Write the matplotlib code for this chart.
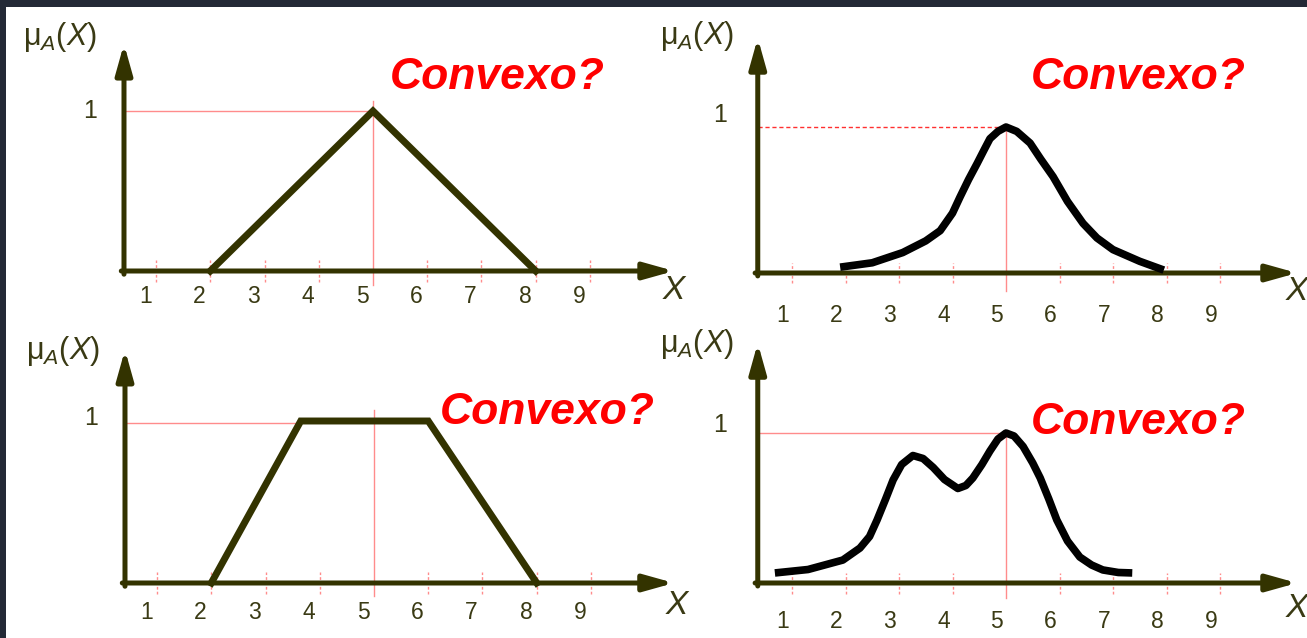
import matplotlib
matplotlib.use("Agg")
import matplotlib.pyplot as plt
from matplotlib.patches import Rectangle

plt.rcParams['font.family'] = ['Liberation Sans', 'DejaVu Sans']
plt.rcParams['mathtext.fontset'] = 'custom'
plt.rcParams['mathtext.rm'] = 'Liberation Sans'
plt.rcParams['mathtext.it'] = 'Liberation Sans:italic'

W, H = 1307, 638
AXIS = '#333300'
TEXT = '#3a3a14'
GUIDE = '#ff8c8c'

ticks = [1, 2, 3, 4, 5, 6, 7, 8, 9]
tick_labels = ['1', '2', '3', '4', '5', '6', '7', '8', '9']

# triangle and trapezoid membership functions
tri_x = [2, 5, 8]
tri_y = [0, 1, 0]
trap_x = [2, 3.65, 6, 8]
trap_y = [0, 1, 1, 0]

# bell shaped membership
bell_x = [1.9, 2.5, 3.07, 3.5, 3.77, 4.0, 4.14, 4.3, 4.46, 4.6, 4.7, 4.85, 5.0,
          5.2, 5.45, 5.65, 5.88, 6.15, 6.44, 6.7, 7.0, 7.5, 7.95]
bell_y = [0.04, 0.07, 0.14, 0.22, 0.29, 0.41, 0.52, 0.64, 0.75, 0.85, 0.92, 0.97, 1.0,
          0.97, 0.89, 0.78, 0.66, 0.49, 0.34, 0.24, 0.16, 0.08, 0.02]

# two-peaked membership
bimodal_x = [0.68, 1.3, 1.95, 2.27, 2.45, 2.59, 2.75, 2.89, 3.05, 3.26, 3.45, 3.64,
             3.85, 4.1, 4.25, 4.38, 4.55, 4.7, 4.85, 5.0, 5.15, 5.32, 5.5, 5.64,
             5.8, 5.95, 6.15, 6.38, 6.6, 6.81, 7.1, 7.36]
bimodal_y = [0.067, 0.09, 0.153, 0.233, 0.31, 0.42, 0.56, 0.687, 0.79, 0.85, 0.83, 0.77,
             0.69, 0.63, 0.65, 0.70, 0.79, 0.88, 0.96, 1.0, 0.98, 0.91, 0.80, 0.70,
             0.56, 0.42, 0.28, 0.173, 0.12, 0.087, 0.07, 0.067]

fig = plt.figure(figsize=(W / 100, H / 100), dpi=100, facecolor='#232936')
fig.patches.append(Rectangle((6 / W, 0), 1, 1 - 7 / H, transform=fig.transFigure,
                             facecolor='white', edgecolor='none', zorder=-10))


def panel(px5, py0, ux, uy):
    """Axes over the whole figure, with x=5 at pixel px5 and y=0 at pixel row py0."""
    ax = fig.add_axes([0, 0, 1, 1])
    ax.set_xlim(5 - px5 / ux, 5 + (W - px5) / ux)
    ax.set_ylim(-(H - py0) / uy, py0 / uy)
    ax.axis('off')
    ax.patch.set_alpha(0)
    return ax


def frame(ax, x0, xtip, ytip, lab_y, lab_dx, one_x, one_y, mu_xy, q_xy, x_xy):
    # guide ticks
    for t in ticks:
        if t != 5:
            ax.plot([t, t], [-0.07, 0.07], color=GUIDE, lw=1, ls=(0, (2, 1.5)), zorder=1)
    for t, s in zip(ticks, tick_labels):
        ax.text(t + lab_dx, lab_y, s, fontsize=16.5, color=TEXT, ha='center', va='center')
    # axes with arrow heads
    arrow = dict(arrowstyle='-|>,head_length=1.0,head_width=0.28', color=AXIS, lw=3.6,
                 mutation_scale=18, shrinkA=0, shrinkB=0)
    ax.annotate('', xy=(xtip, 0), xytext=(x0 - 0.05, 0), arrowprops=arrow, zorder=3)
    ax.annotate('', xy=(x0, ytip), xytext=(x0, -0.02), arrowprops=arrow, zorder=3)
    ax.text(one_x, one_y, '1', fontsize=18, color=TEXT, ha='center', va='center')
    ax.text(mu_xy[0], mu_xy[1], r'μ$_{\mathit{A}}$($\mathit{X}$)', fontsize=22,
            color=TEXT, ha='center', va='center')
    ax.text(x_xy[0], x_xy[1], 'X', fontsize=24, style='italic', color=TEXT,
            ha='center', va='center')
    ax.text(q_xy[0], q_xy[1], 'Convexo?', fontsize=32, fontweight='bold',
            style='italic', color='#ff0000', ha='center', va='center')


# top left: triangle
ax1 = panel(373, 271, 54.25, 160)
frame(ax1, 0.41, 10.55, 1.42, -0.16, -0.2, -0.22, 1.0, (-0.77, 1.46), (7.29, 1.21), (10.55, -0.12))
ax1.plot([0.41, 5], [1, 1], color=GUIDE, lw=1, zorder=1)
ax1.plot([5, 5], [-0.09, 1.06], color=GUIDE, lw=1, zorder=1)
ax1.plot(tri_x, tri_y, color=AXIS, lw=5, solid_joinstyle='miter', zorder=4)

# top right: bell
ax2 = panel(1006, 273, 53.5, 146)
frame(ax2, 0.36, 10.44, 1.61, -0.29, -0.17, -0.35, 1.08, (-0.78, 1.62), (7.47, 1.34), (10.44, -0.13))
ax2.plot([0.36, 5], [1.0, 1.0], color='#ff3030', lw=1, ls=(0, (3, 2)), zorder=1)
ax2.plot([5, 5], [-0.12, 1.0], color=GUIDE, lw=1, zorder=1)
ax2.plot(bell_x, bell_y, color='black', lw=5.5, solid_capstyle='butt',
         solid_joinstyle='round', zorder=4)

# bottom left: trapezoid
ax3 = panel(374, 583, 54.25, 162)
frame(ax3, 0.41, 10.53, 1.44, -0.18, -0.2, -0.22, 1.02, (-0.73, 1.43), (8.19, 1.05), (10.58, -0.14))
ax3.plot([0.41, 3.65], [0.99, 0.99], color=GUIDE, lw=1, zorder=1)
ax3.plot([5, 5], [-0.08, 1.07], color=GUIDE, lw=1, zorder=1)
ax3.plot(trap_x, trap_y, color=AXIS, lw=5, solid_joinstyle='miter', zorder=4)

# bottom right: two peaks
ax4 = panel(1006, 583, 53.5, 150)
frame(ax4, 0.36, 10.44, 1.6, -0.26, -0.17, -0.35, 1.05, (-0.78, 1.59), (7.47, 1.07), (10.44, -0.17))
ax4.plot([0.36, 5], [1.0, 1.0], color=GUIDE, lw=1, zorder=1)
ax4.plot([5, 5], [-0.1, 1.0], color=GUIDE, lw=1, zorder=1)
ax4.plot(bimodal_x, bimodal_y, color='black', lw=5.5, solid_capstyle='butt',
         solid_joinstyle='round', zorder=4)

fig.savefig('out.png', dpi=100, facecolor=fig.get_facecolor())
